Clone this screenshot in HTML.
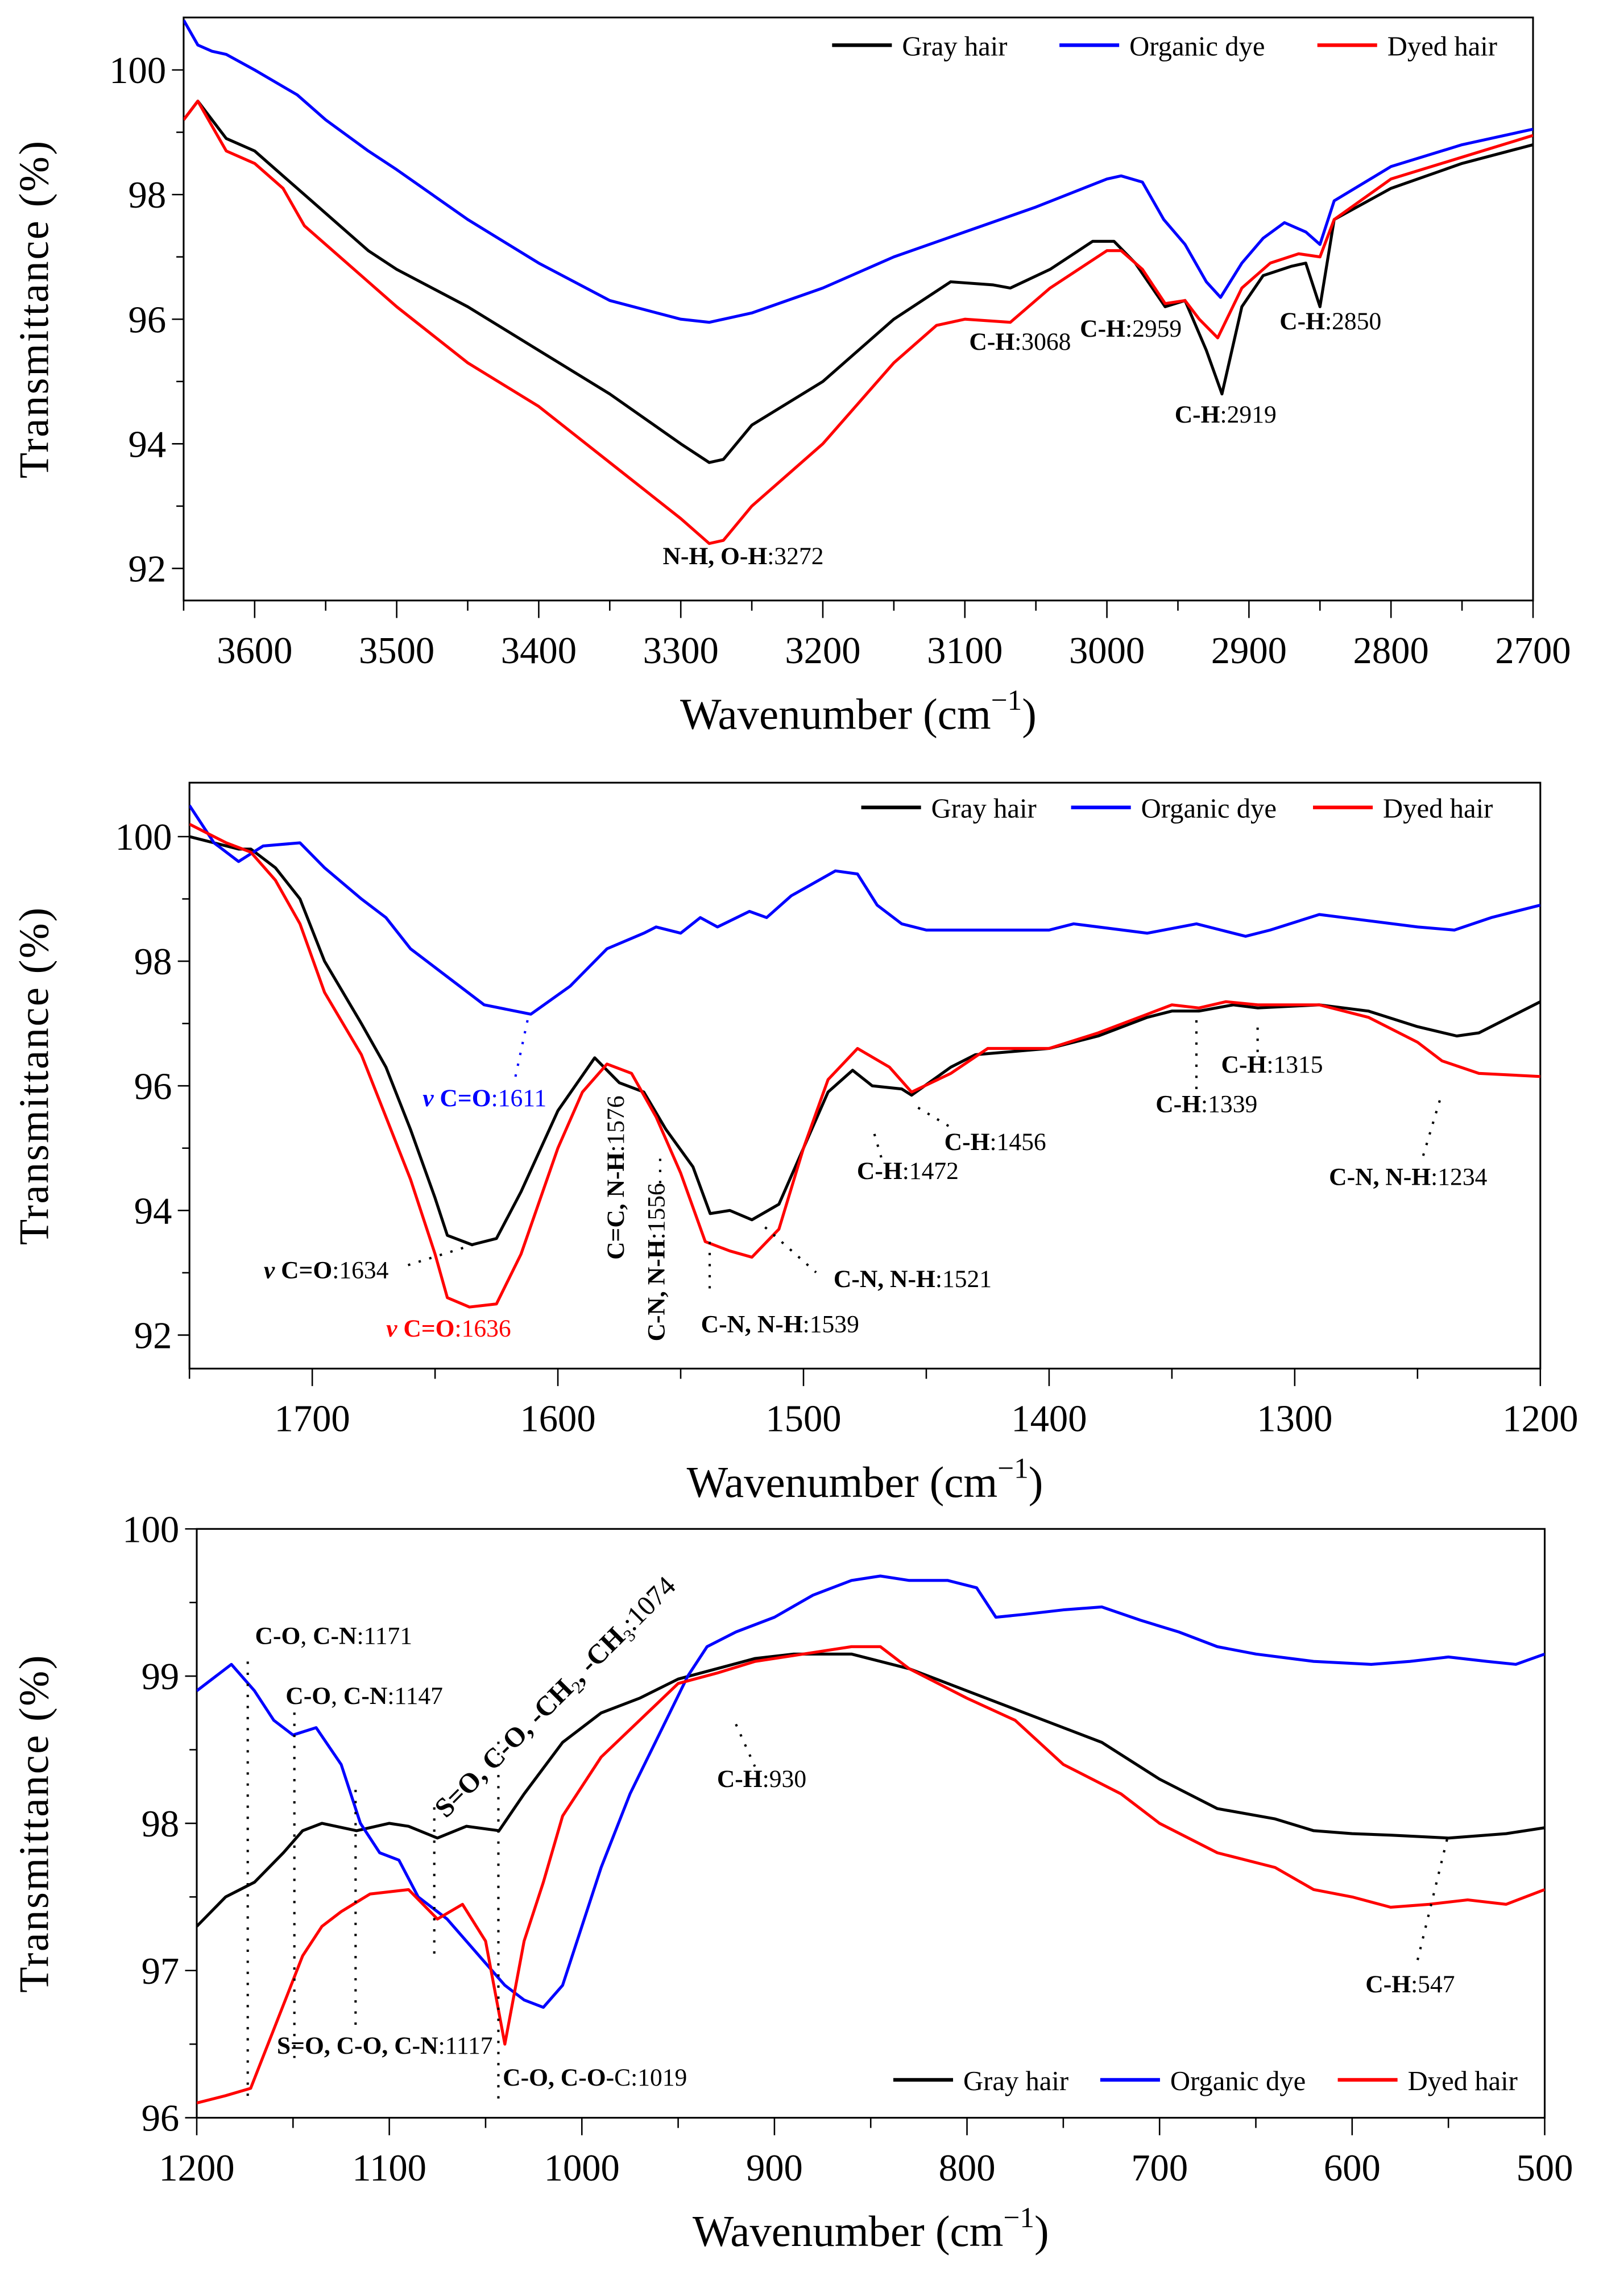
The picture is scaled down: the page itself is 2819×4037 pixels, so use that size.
<!DOCTYPE html>
<html><head><meta charset="utf-8"><style>
html,body{margin:0;padding:0;background:#fff}
svg{display:block}
text{font-family:"Liberation Serif",serif}
</style></head><body>
<svg id="fig" width="2819" height="4037" viewBox="0 0 1100 1575.3" xmlns="http://www.w3.org/2000/svg"></svg>
<script>
// ---------- Panel 1 data (3650-2700 cm-1) ----------
const p1GrayX=[3650,3640,3630,3620,3600,3580,3560,3540,3520,3500,3450,3400,3350,3300,3280,3270,3250,3200,3150,3110,3080,3068,3040,3010,2995,2980,2959,2945,2930,2919,2905,2890,2870,2860,2850,2840,2800,2750,2700];
const p1GrayY=[99.2,99.5,99.2,98.9,98.7,98.3,97.9,97.5,97.1,96.8,96.2,95.5,94.8,94.0,93.7,93.75,94.3,95.0,96.0,96.6,96.55,96.5,96.8,97.25,97.25,96.9,96.2,96.3,95.5,94.8,96.2,96.7,96.85,96.9,96.2,97.6,98.1,98.5,98.8];
const p1BlueX=[3650,3640,3630,3620,3600,3570,3550,3520,3500,3450,3400,3350,3300,3280,3250,3200,3150,3100,3050,3000,2990,2975,2960,2945,2930,2920,2905,2890,2875,2860,2850,2840,2800,2750,2700];
const p1BlueY=[100.8,100.4,100.3,100.25,100.0,99.6,99.2,98.7,98.4,97.6,96.9,96.3,96.0,95.95,96.1,96.5,97.0,97.4,97.8,98.25,98.3,98.2,97.6,97.2,96.6,96.35,96.9,97.3,97.55,97.4,97.2,97.9,98.45,98.8,99.05];
const p1RedX=[3650,3640,3630,3620,3600,3580,3565,3540,3520,3500,3450,3400,3350,3300,3280,3270,3250,3200,3150,3120,3100,3068,3040,3000,2990,2975,2959,2945,2935,2922,2905,2885,2865,2850,2840,2800,2750,2700];
const p1RedY=[99.2,99.5,99.1,98.7,98.5,98.1,97.5,97.0,96.6,96.2,95.3,94.6,93.7,92.8,92.4,92.45,93.0,94.0,95.3,95.9,96.0,95.95,96.5,97.1,97.1,96.8,96.25,96.3,96.0,95.7,96.5,96.9,97.05,97.0,97.6,98.25,98.6,98.95];
const p1XTicks=[3600,3500,3400,3300,3200,3100,3000,2900,2800,2700];
const p1YTicks=[92,94,96,98,100];

// ---------- Panel 2 data (1750-1200 cm-1) ----------
const p2GrayX=[1750,1730,1725,1715,1705,1695,1680,1670,1660,1650,1645,1635,1625,1615,1600,1585,1575,1565,1556,1545,1538,1530,1521,1510,1500,1490,1480,1472,1460,1456,1440,1430,1400,1380,1360,1350,1339,1325,1315,1290,1270,1250,1234,1225,1210,1200];
const p2GrayY=[100.0,99.8,99.8,99.5,99.0,98.0,97.0,96.3,95.3,94.2,93.6,93.45,93.55,94.3,95.6,96.45,96.05,95.9,95.3,94.7,93.95,94.0,93.85,94.1,95.0,95.9,96.25,96.0,95.95,95.85,96.3,96.5,96.6,96.8,97.1,97.2,97.2,97.3,97.25,97.3,97.2,96.95,96.8,96.85,97.15,97.35];
const p2BlueX=[1750,1740,1730,1720,1705,1695,1680,1670,1660,1650,1640,1630,1611,1595,1580,1565,1560,1550,1542,1535,1522,1515,1505,1487,1478,1470,1460,1450,1430,1400,1390,1370,1360,1340,1330,1320,1310,1290,1270,1250,1235,1220,1200];
const p2BlueY=[100.5,99.9,99.6,99.85,99.9,99.5,99.0,98.7,98.2,97.9,97.6,97.3,97.15,97.6,98.2,98.45,98.55,98.45,98.7,98.55,98.8,98.7,99.05,99.45,99.4,98.9,98.6,98.5,98.5,98.5,98.6,98.5,98.45,98.6,98.5,98.4,98.5,98.75,98.65,98.55,98.5,98.7,98.9];
const p2RedX=[1750,1735,1725,1715,1705,1695,1680,1670,1660,1650,1645,1636,1625,1615,1600,1590,1580,1570,1560,1550,1540,1530,1521,1510,1500,1490,1478,1465,1456,1440,1425,1400,1380,1360,1350,1339,1328,1315,1290,1270,1250,1240,1225,1200];
const p2RedY=[100.2,99.9,99.75,99.3,98.6,97.5,96.5,95.5,94.5,93.3,92.6,92.45,92.5,93.3,95.0,95.9,96.35,96.2,95.5,94.6,93.5,93.35,93.25,93.7,95.0,96.1,96.6,96.3,95.9,96.2,96.6,96.6,96.85,97.15,97.3,97.25,97.35,97.3,97.3,97.1,96.7,96.4,96.2,96.15];
const p2XTicks=[1700,1600,1500,1400,1300,1200];
const p2YTicks=[92,94,96,98,100];

// ---------- Panel 3 data (1200-500 cm-1) ----------
const p3GrayX=[1200,1185,1170,1155,1145,1135,1117,1100,1090,1075,1060,1043,1030,1010,990,970,950,930,910,890,860,830,800,760,730,700,670,640,620,600,580,550,520,500];
const p3GrayY=[97.3,97.5,97.6,97.8,97.95,98.0,97.95,98.0,97.98,97.9,97.98,97.95,98.2,98.55,98.75,98.85,98.98,99.05,99.12,99.15,99.15,99.05,98.9,98.7,98.55,98.3,98.1,98.03,97.95,97.93,97.92,97.9,97.93,97.97];
const p3BlueX=[1200,1190,1182,1170,1160,1150,1138,1125,1115,1105,1095,1085,1070,1050,1040,1030,1020,1010,1000,990,975,960,945,935,920,900,880,860,845,830,810,795,785,770,750,730,710,690,670,650,620,590,570,550,530,515,500];
const p3BlueY=[98.9,99.0,99.08,98.9,98.7,98.6,98.65,98.4,98.0,97.8,97.75,97.5,97.35,97.05,96.9,96.8,96.75,96.9,97.3,97.7,98.2,98.6,99.0,99.2,99.3,99.4,99.55,99.65,99.68,99.65,99.65,99.6,99.4,99.42,99.45,99.47,99.38,99.3,99.2,99.15,99.1,99.08,99.1,99.13,99.1,99.08,99.15];
const p3RedX=[1200,1185,1172,1160,1145,1135,1125,1110,1090,1075,1062,1050,1040,1030,1020,1010,990,970,950,930,910,885,860,845,830,800,775,750,720,700,670,640,620,600,580,560,540,520,500];
const p3RedY=[96.1,96.15,96.2,96.6,97.1,97.3,97.4,97.52,97.55,97.35,97.45,97.2,96.5,97.2,97.6,98.05,98.45,98.7,98.95,99.02,99.1,99.15,99.2,99.2,99.05,98.85,98.7,98.4,98.2,98.0,97.8,97.7,97.55,97.5,97.43,97.45,97.48,97.45,97.55];
const p3XTicks=[1200,1100,1000,900,800,700,600,500];
const p3YTicks=[96,97,98,99,100];

const NS="http://www.w3.org/2000/svg";
const svg=document.getElementById('fig');
function mk(tag,attrs,parent){const e=document.createElementNS(NS,tag);for(const k in attrs)e.setAttribute(k,attrs[k]);(parent||svg).appendChild(e);return e;}

function panel(cfg){
  const g=mk('g',{});
  
  
  const sx=v=>cfg.x0+(v-cfg.xMax)/(cfg.xMin-cfg.xMax)*(cfg.x1-cfg.x0);
  const sy=v=>cfg.yA+(cfg.vA-v)/(cfg.vA-cfg.vB)*(cfg.yB-cfg.yA);
  const frame=mk('rect',{x:cfg.x0,y:cfg.top,width:cfg.x1-cfg.x0,height:cfg.bot-cfg.top,fill:'none',stroke:'#000','stroke-width':1.2},g);
  
  
  const xt=mk('g',{},g);
  
  
  for(let v=cfg.xMax;v>=cfg.xMin;v-=50){
    const X=sx(v);const major=cfg.xTicks.indexOf(v)>=0;
    mk('line',{x1:X,x2:X,y1:cfg.bot,y2:cfg.bot+(major?12:7),stroke:'#000','stroke-width':1},xt);
  }
  cfg.xTicks.forEach(v=>{
    const t=mk('text',{x:sx(v),y:cfg.bot+43,'font-size':26,'text-anchor':'middle'},xt);
    
    
    t.textContent=v;
  });
  const yt=mk('g',{},g);
  
  
  const step=cfg.yTicks[1]-cfg.yTicks[0];
  for(let v=cfg.yTicks[0]-step/2;v<=cfg.yTicks[cfg.yTicks.length-1];v+=step/2){
    const Y=sy(v);if(Y<cfg.top-0.5||Y>cfg.bot+0.5)continue;
    const major=cfg.yTicks.indexOf(Math.round(v*10)/10)>=0;
    mk('line',{x1:cfg.x0,x2:cfg.x0-(major?8:5),y1:Y,y2:Y,stroke:'#000','stroke-width':1},yt);
  }
  cfg.yTicks.forEach(v=>{
    const t=mk('text',{x:cfg.x0-12,y:sy(v)+9,'font-size':26,'text-anchor':'end'},yt);
    
    
    t.textContent=v;
  });
  const xtitle=mk('text',{x:(cfg.x0+cfg.x1)/2,y:cfg.bot+88,'font-size':30,'text-anchor':'middle'},g);
  
  
  xtitle.innerHTML='Wavenumber (cm<tspan dy="-13" font-size="20">−1</tspan><tspan dy="13">)</tspan>';
  const ytitle=mk('text',{x:0,y:0,'font-size':29,'text-anchor':'middle','letter-spacing':1,transform:`translate(${cfg.ytx},${(cfg.top+cfg.bot)/2}) rotate(-90)`},g);
  
  
  ytitle.textContent='Transmittance (%)';
  const series=[['gray-hair-line','#000',cfg.gx,cfg.gy],['organic-dye-line','#0000ff',cfg.bx,cfg.by],['dyed-hair-line','#ff0000',cfg.rx,cfg.ry]];
  const clipId=cfg.name+'-clip';
  const cp=mk('clipPath',{id:clipId},g);mk('rect',{x:cfg.x0,y:cfg.top,width:cfg.x1-cfg.x0,height:cfg.bot-cfg.top},cp);
  series.forEach(s=>{
    const d=s[2].map((v,i)=>(i?'L':'M')+sx(v).toFixed(2)+','+sy(s[3][i]).toFixed(2)).join('');
    const p=mk('path',{d:d,fill:'none',stroke:s[1],'stroke-width':2,'stroke-linejoin':'round','clip-path':`url(#${clipId})`},g);
    
    
  });
  const lg=mk('g',{},g);
  
  
  const labs=[['Gray hair','#000'],['Organic dye','#0000ff'],['Dyed hair','#ff0000']];
  labs.forEach((l,i)=>{
    const e=mk('g',{},lg);
    
    
    const lx=cfg.leg[i];
    mk('line',{x1:lx,x2:lx+41,y1:cfg.legY,y2:cfg.legY,stroke:l[1],'stroke-width':2.5},e);
    const t=mk('text',{x:lx+48,y:cfg.legY+7,'font-size':19},e);t.textContent=l[0];
  });
  return {g,sx,sy};
}

function label(g,x,y,html,opt){
  opt=opt||{};
  const t=mk('text',{x:x,y:y,'font-size':opt.fs||17,fill:opt.fill||'#000','text-anchor':opt.anchor||'start'},g);
  if(opt.rot)t.setAttribute('transform',`rotate(${opt.rot} ${x} ${y})`);
  
  
  t.innerHTML=html;return t;
}
function dots(g,x1,y1,x2,y2,col){
  const l=mk('line',{x1,y1,x2,y2,stroke:col||'#000','stroke-width':1.6,'stroke-dasharray':'1.6 6'},g);
  
  
}

const P1=panel({name:'panel-3650-2700',x0:126,x1:1052,xMax:3650,xMin:2700,top:12,bot:412,yA:48,vA:100,yB:390,vB:92,
  xTicks:p1XTicks,yTicks:p1YTicks,ytx:33,gx:p1GrayX,gy:p1GrayY,bx:p1BlueX,by:p1BlueY,rx:p1RedX,ry:p1RedY,leg:[571,727,904],legY:31});
label(P1.g,510,387,'<tspan font-weight="bold">N-H, O-H</tspan>:3272',{anchor:'middle'});
label(P1.g,700,240,'<tspan font-weight="bold">C-H</tspan>:3068',{anchor:'middle'});
label(P1.g,776,231,'<tspan font-weight="bold">C-H</tspan>:2959',{anchor:'middle'});
label(P1.g,841,290,'<tspan font-weight="bold">C-H</tspan>:2919',{anchor:'middle'});
label(P1.g,913,226,'<tspan font-weight="bold">C-H</tspan>:2850',{anchor:'middle'});

const P2=panel({name:'panel-1750-1200',x0:130,x1:1057,xMax:1750,xMin:1200,top:537,bot:939,yA:574,vA:100,yB:916,vB:92,
  xTicks:p2XTicks,yTicks:p2YTicks,ytx:33,gx:p2GrayX,gy:p2GrayY,bx:p2BlueX,by:p2BlueY,rx:p2RedX,ry:p2RedY,leg:[591,735,901],legY:554});
label(P2.g,290,759,'<tspan font-style="italic" font-weight="bold">ν</tspan> <tspan font-weight="bold">C=O</tspan>:1611',{fill:'#0000ff'});
dots(P2.g,362,700,353,742,'#0000ff');
label(P2.g,181,877,'<tspan font-style="italic" font-weight="bold">ν</tspan> <tspan font-weight="bold">C=O</tspan>:1634');
dots(P2.g,280,868,328,853);
label(P2.g,265,917,'<tspan font-style="italic" font-weight="bold">ν</tspan> <tspan font-weight="bold">C=O</tspan>:1636',{fill:'#ff0000'});
label(P2.g,428,808,'<tspan font-weight="bold">C=C, N-H</tspan>:1576',{anchor:'middle',rot:-90});
label(P2.g,456,866,'<tspan font-weight="bold">C-N, N-H</tspan>:1556',{anchor:'middle',rot:-90});
dots(P2.g,453,795,453,820);
label(P2.g,481,914,'<tspan font-weight="bold">C-N, N-H</tspan>:1539');
dots(P2.g,487,852,487,888);
label(P2.g,572,883,'<tspan font-weight="bold">C-N, N-H</tspan>:1521');
dots(P2.g,525,842,560,873);
label(P2.g,588,809,'<tspan font-weight="bold">C-H</tspan>:1472');
dots(P2.g,600,778,605,795);
label(P2.g,648,789,'<tspan font-weight="bold">C-H</tspan>:1456');
dots(P2.g,630,760,655,775);
label(P2.g,793,763,'<tspan font-weight="bold">C-H</tspan>:1339');
dots(P2.g,821,700,821,748);
label(P2.g,838,736,'<tspan font-weight="bold">C-H</tspan>:1315');
dots(P2.g,863,705,863,722);
label(P2.g,912,813,'<tspan font-weight="bold">C-N, N-H</tspan>:1234');
dots(P2.g,988,755,976,795);

const P3=panel({name:'panel-1200-500',x0:135,x1:1060,xMax:1200,xMin:500,top:1049,bot:1453,yA:1049,vA:100,yB:1453,vB:96,
  xTicks:p3XTicks,yTicks:p3YTicks,ytx:33,gx:p3GrayX,gy:p3GrayY,bx:p3BlueX,by:p3BlueY,rx:p3RedX,ry:p3RedY,leg:[613,755,918],legY:1427});
label(P3.g,175,1128,'<tspan font-weight="bold">C-O</tspan>, <tspan font-weight="bold">C-N</tspan>:1171');
label(P3.g,196,1169,'<tspan font-weight="bold">C-O</tspan>, <tspan font-weight="bold">C-N</tspan>:1147');
label(P3.g,306,1248,'<tspan font-weight="bold">S=O, C-O, -CH</tspan><tspan font-size="12" dy="4">2</tspan><tspan dy="-4" font-weight="bold">, -CH</tspan><tspan font-size="12" dy="4">3</tspan><tspan dy="-4">:1074</tspan>',{rot:-45,fs:19});
label(P3.g,492,1226,'<tspan font-weight="bold">C-H</tspan>:930');
dots(P3.g,505,1183,518,1212);
label(P3.g,190,1409,'<tspan font-weight="bold">S=O, C-O, C-N</tspan>:1117');
label(P3.g,345,1431,'<tspan font-weight="bold">C-O, C-O-</tspan>C:1019');
label(P3.g,937,1367,'<tspan font-weight="bold">C-H</tspan>:547');
dots(P3.g,993,1262,972,1348);
dots(P3.g,170,1140,170,1442);
dots(P3.g,202,1175,202,1412);
dots(P3.g,244,1228,244,1390);
dots(P3.g,298,1240,298,1345);
dots(P3.g,342,1195,342,1442);
</script>
</body></html>
